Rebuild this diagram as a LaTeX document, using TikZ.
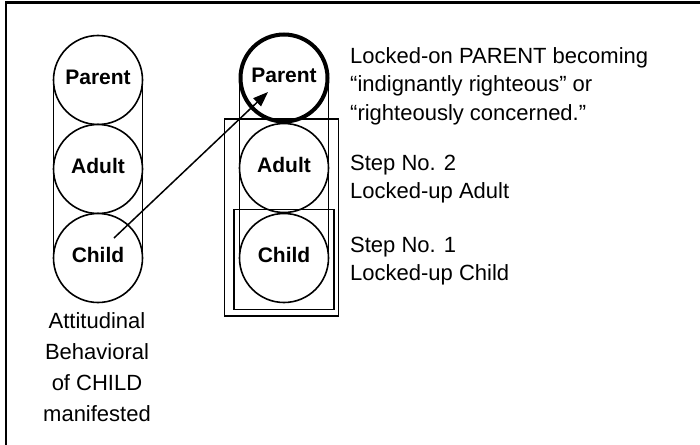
\documentclass[tikz,border=0pt]{standalone}
\usepackage{fontspec}
\setmainfont{Liberation Sans}
\usetikzlibrary{arrows.meta,calc}
\begin{document}
\begin{tikzpicture}[x=1pt,y=-1pt,
  egostate/.style={circle,draw,line width=1.6pt,minimum size=89pt,inner sep=0pt,
    font=\fontsize{21}{25}\selectfont\bfseries,text height=15pt,text depth=6pt},
  thickego/.style={egostate,line width=4pt,minimum size=87pt},
  side/.style={line width=1.5pt},
  stepbox/.style={draw,line width=1.4pt,inner sep=0pt},
  caption/.style={font=\fontsize{22}{28.5}\selectfont,align=left,inner sep=0pt,anchor=base west},
  frameline/.style={line width=2.5pt}]
\useasboundingbox (0,0) rectangle (700,444);
% frame (only top and left edges visible)
\coordinate (ftl) at (6,2.5);
\coordinate (ftr) at (710,2.5);
\coordinate (fbl) at (6,450);
\draw[frameline] (fbl) -- (ftl) -- (ftr);
% left column
\coordinate (lt1) at (53.5,80); \coordinate (lb1) at (53.5,258);
\coordinate (lt2) at (142.5,80); \coordinate (lb2) at (142.5,258);
\draw[side] (lt1) -- (lb1);
\draw[side] (lt2) -- (lb2);
\node[egostate,fill=white] (lp) at (98,80) {Parent};
\node[egostate,fill=white] (la) at (98,169) {Adult};
\node[egostate,fill=white] (lc) at (98,258) {Child};
\node[font=\fontsize{22}{31}\selectfont,align=center,inner sep=0pt,anchor=base] (lcap) at (97,421)
  {Attitudinal\\Behavioral\\of CHILD\\manifested};
% right column
\coordinate (rt1) at (239.5,78); \coordinate (rb1) at (239.5,258);
\coordinate (rt2) at (328.5,78); \coordinate (rb2) at (328.5,258);
\draw[side] (rt1) -- (rb1);
\draw[side] (rt2) -- (rb2);
\node[thickego] (rp) at (284,78) {Parent};
\node[egostate] (ra) at (284,168) {Adult};
\node[egostate] (rc) at (284,258) {Child};
% step boxes
\node[stepbox,minimum width=114pt,minimum height=197pt] (s2) at (281.5,217.5) {};
\node[stepbox,minimum width=100pt,minimum height=100pt] (s1) at (284,259.5) {};
% arrow
\coordinate (as) at (114,238);
\coordinate (ae) at (268,92);
\draw[line width=1.5pt,-{Triangle[length=15pt,width=11pt]}] (as) -- (ae);
% captions
\node[caption] (c1) at (350,120) {Locked-on PARENT becoming\\“indignantly righteous” or\\“righteously concerned.”};
\node[caption] (c2) at (350,198.5) {Step No. 2\\Locked-up Adult};
\node[caption] (c3) at (350,280.5) {Step No. 1\\Locked-up Child};
\end{tikzpicture}
\end{document}
